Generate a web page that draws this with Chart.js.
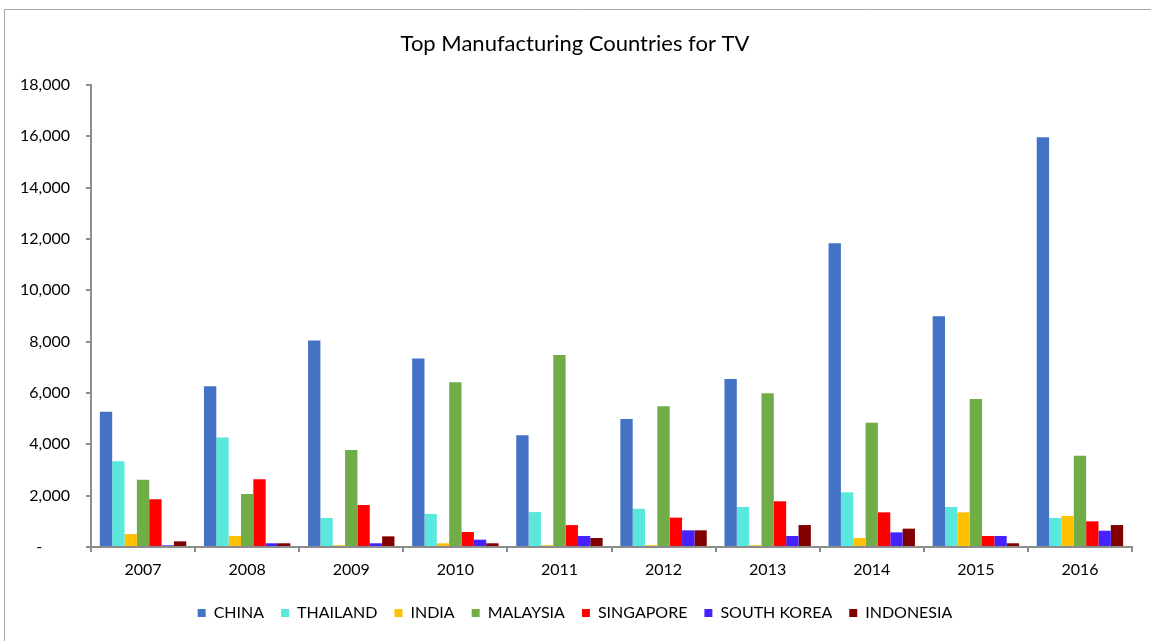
<!DOCTYPE html>
<html>
<head>
<meta charset="utf-8">
<script src="https://cdn.jsdelivr.net/npm/chart.js@4.4.1/dist/chart.umd.min.js"></script>
<style>
html, body { margin: 0; padding: 0; background: #fff; overflow: hidden; }
#wrap { width: 1151px; height: 641px; position: relative; }
</style>
</head>
<body>
<div id="wrap"><canvas id="c" width="1151" height="641"></canvas></div>
<script>
const years = ['2007','2008','2009','2010','2011','2012','2013','2014','2015','2016'];
const china      = [5270, 6260, 8050, 7340, 4350, 4990, 6545, 11830, 8990, 15960];
const thailand   = [3340, 4270, 1130, 1290, 1360, 1490, 1560, 2130, 1560, 1130];
const india      = [ 505,  430,   70,  145,   70,   70,   70,  350, 1350, 1210];
const malaysia   = [2620, 2065, 3780, 6415, 7480, 5480, 5990, 4845, 5765, 3560];
const singapore  = [1860, 2635, 1635,  585,  855, 1145, 1780, 1350,  430, 1000];
const southKorea = [  65,  145,  145,  285,  430,  650,  430,  570,  430,  635];
const indonesia  = [ 220,  145,  415,  145,  350,  650,  855,  715,  145,  855];
const seriesNames = ['CHINA','THAILAND','INDIA','MALAYSIA','SINGAPORE','SOUTH KOREA','INDONESIA'];
const seriesColors = ['#4472C4','#5BE8DC','#FFC000','#70AD47','#FF0000','#4422FF','#800000'];
const seriesData = [china, thailand, india, malaysia, singapore, southKorea, indonesia];
const yTickValues = [0,2000,4000,6000,8000,10000,12000,14000,16000,18000];

const FONT = 'Lato, "Open Sans", sans-serif';
const axisColor = '#8c8c8c';

const framePlugin = {
  id: 'frame',
  afterDraw(chart) {
    const ctx = chart.ctx;
    ctx.save();
    ctx.strokeStyle = '#a6a6a6';
    ctx.lineWidth = 1;
    ctx.beginPath();
    ctx.moveTo(4.5, 641);
    ctx.lineTo(4.5, 9.5);
    ctx.lineTo(1151, 9.5);
    ctx.stroke();
    ctx.restore();
  }
};

new Chart(document.getElementById('c'), {
  type: 'bar',
  data: {
    labels: years,
    datasets: seriesNames.map((n, i) => ({
      label: n,
      data: seriesData[i],
      backgroundColor: seriesColors[i],
      borderWidth: 0,
      categoryPercentage: 0.83,
      barPercentage: 1.0
    }))
  },
  options: {
    responsive: false,
    animation: false,
    devicePixelRatio: 1,
    layout: { padding: { left: 18, right: 19, top: 0, bottom: 10 } },
    plugins: {
      title: {
        display: true,
        text: 'Top Manufacturing Countries for TV',
        color: '#000',
        font: { family: FONT, size: 22, weight: 'normal', lineHeight: 1.2 },
        padding: { top: 31, bottom: 27.6 }
      },
      legend: {
        position: 'bottom',
        labels: {
          color: '#000',
          font: { family: FONT, size: 16 },
          boxWidth: 8,
          boxHeight: 8,
          padding: 17
        }
      },
      tooltip: { enabled: false }
    },
    scales: {
      x: {
        grid: { display: true, drawOnChartArea: false, drawTicks: true, tickLength: 5, color: axisColor, lineWidth: 2, offset: true },
        border: { display: true, color: axisColor, width: 2 },
        ticks: { color: '#000', font: { family: FONT, size: 16, lineHeight: 1.2 }, padding: 8, maxRotation: 0 },
        afterFit(scale) { scale.height = 41; }
      },
      y: {
        min: 0,
        max: 18000,
        afterBuildTicks(scale) { scale.ticks = yTickValues.map(v => ({ value: v })); },
        grid: { display: true, drawOnChartArea: false, drawTicks: true, tickLength: 5, color: axisColor, lineWidth: 2 },
        border: { display: true, color: axisColor, width: 2 },
        ticks: {
          color: '#000',
          font: { family: FONT, size: 16 },
          padding: 16,
          callback: (v) => v === 0 ? '-\u2007\u2007\u2007' : v.toLocaleString('en-US')
        },
        afterFit(scale) { scale.width = 73; }
      }
    }
  },
  plugins: [framePlugin]
});
</script>
</body>
</html>
